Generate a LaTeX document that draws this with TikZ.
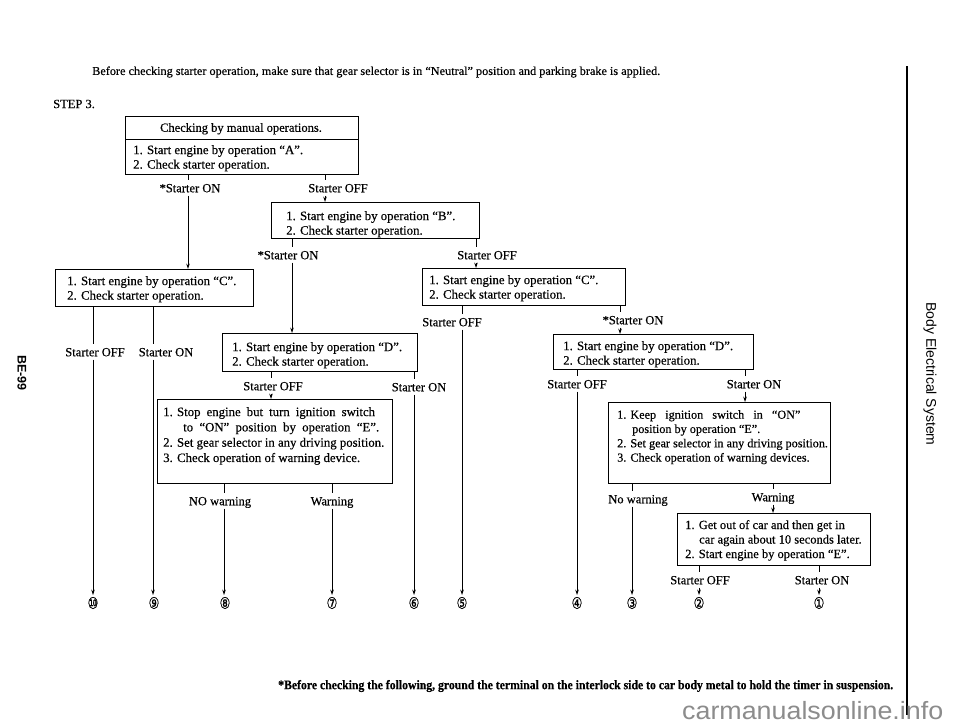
\documentclass[tikz,border=0pt]{standalone}
\usepackage{fontspec}
\usepackage{graphicx}
\setmainfont{Liberation Serif}[FakeBold=0.35]
\newfontfamily\sansf{Liberation Sans}
\newfontfamily\symf{DejaVu Sans}[FakeBold=0.6]
\usetikzlibrary{arrows.meta}
\begin{document}
\begin{tikzpicture}[x=1pt,y=-1pt,
  box/.style={draw, line width=0.9pt, inner sep=0pt, anchor=north west},
  btxt/.style={font=\fontsize{12.8}{14.5}\selectfont, align=left, anchor=north west, inner sep=0pt},
  lbl/.style={font=\fontsize{12.5}{14}\selectfont, inner sep=0pt, text height=8.5pt, text depth=0pt, minimum height=15pt},
  ln/.style={line width=0.8pt},
  arr/.style={line width=0.8pt, -{Stealth[length=5.5pt,width=3.6pt]}},
  num/.style={font=\symf\fontsize{16}{16}\selectfont, inner sep=0pt, outer sep=2pt},
  plain/.style={inner sep=0pt},
]
\fill[white] (0,0) rectangle (960,724);
\useasboundingbox (0,0) rectangle (960,724);

% header texts
\node[plain, anchor=west, font=\fontsize{12}{13}\selectfont] (hdr) at (92,72)
  {\resizebox{568pt}{\height}{Before checking starter operation, make sure that gear selector is in “Neutral” position and parking brake is applied.}};
\node[plain, anchor=west, font=\fontsize{12.5}{13}\selectfont] (step) at (53,104) {STEP 3.};

% boxes
\node[box, minimum width=233pt, minimum height=58pt] (b1) at (125,116) {};
\coordinate (div1) at (0,139);
\draw[line width=0.9pt] (b1.west |- div1) -- (b1.east |- div1);
\node[lbl] (b1h) at (241,127.5) {Checking by manual operations.};
\node[btxt] (b1t) at (133,145) {1. Start engine by operation “A”.\\2. Check starter operation.};

\node[box, minimum width=208pt, minimum height=36pt] (bB) at (271,202) {};
\node[btxt] (bBt) at (286,211) {1. Start engine by operation “B”.\\2. Check starter operation.};

\node[box, minimum width=198pt, minimum height=37pt] (c1) at (55,269) {};
\node[btxt] (c1t) at (67,276) {1. Start engine by operation “C”.\\2. Check starter operation.};

\node[box, minimum width=203pt, minimum height=37pt] (c2) at (422,268) {};
\node[btxt] (c2t) at (429,275) {1. Start engine by operation “C”.\\2. Check starter operation.};

\node[box, minimum width=195pt, minimum height=38pt] (d1) at (222,333) {};
\node[btxt] (d1t) at (232,342) {1. Start engine by operation “D”.\\2. Check starter operation.};

\node[box, minimum width=200pt, minimum height=35pt] (d2) at (553,334) {};
\node[btxt] (d2t) at (563,341) {1. Start engine by operation “D”.\\2. Check starter operation.};

\node[box, minimum width=235pt, minimum height=84pt] (e1) at (157,399) {};
\node[btxt, font=\fontsize{12.8}{15.3}\selectfont] (e1t) at (163,407)
  {1. \makebox[198pt][s]{Stop engine but turn ignition switch}\\
   \hspace*{20pt}\makebox[196pt][s]{to “ON” position by operation “E”.}\\
   2. Set gear selector in any driving position.\\
   3. Check operation of warning device.};

\node[box, minimum width=222pt, minimum height=81pt] (e2) at (608,402) {};
\node[btxt, font=\fontsize{12.2}{14.3}\selectfont] (e2t) at (617,410)
  {1. \makebox[170pt][s]{Keep ignition switch in “ON”}\\
   \hspace*{15pt}position by operation “E”.\\
   2. Set gear selector in any driving position.\\
   3. Check operation of warning devices.};

\node[box, minimum width=193pt, minimum height=52pt] (bF) at (677,513) {};
\node[btxt, font=\fontsize{12.5}{14.5}\selectfont] (bFt) at (685,520)
  {1. Get out of car and then get in\\
   \hspace*{14pt}car again about 10 seconds later.\\
   2. Start engine by operation “E”.};

% x positions of the connectors
\coordinate (x1) at (188,0);
\coordinate (x2) at (325,0);
\coordinate (x3) at (292,0);
\coordinate (x4) at (476,0);
\coordinate (x5) at (93,0);
\coordinate (x6) at (153,0);
\coordinate (x7) at (462,0);
\coordinate (x8) at (620,0);
\coordinate (x9) at (271,0);
\coordinate (x10) at (414,0);
\coordinate (x11) at (577,0);
\coordinate (x12) at (745,0);
\coordinate (x13) at (224,0);
\coordinate (x14) at (332,0);
\coordinate (x15) at (632,0);
\coordinate (x16) at (773,0);
\coordinate (x17) at (699,0);
\coordinate (x18) at (819,0);

% labels
\node[lbl] (l1) at (190,188) {*Starter ON};
\node[lbl] (l2) at (338,188) {Starter OFF};
\node[lbl] (l3) at (288,255) {*Starter ON};
\node[lbl] (l4) at (487,255) {Starter OFF};
\node[lbl] (l5) at (95,352) {Starter OFF};
\node[lbl] (l6) at (166,352) {Starter ON};
\node[lbl] (l7) at (452,322) {Starter OFF};
\node[lbl] (l8) at (633,320) {*Starter ON};
\node[lbl] (l9) at (273,386) {Starter OFF};
\node[lbl] (l10) at (419,387) {Starter ON};
\node[lbl] (l11) at (577,384) {Starter OFF};
\node[lbl] (l12) at (754,384) {Starter ON};
\node[lbl] (l13) at (220,501) {NO warning};
\node[lbl] (l14) at (332,501) {Warning};
\node[lbl] (l15) at (638,499) {No warning};
\node[lbl] (l16) at (773,497) {Warning};
\node[lbl] (l17) at (700,580) {Starter OFF};
\node[lbl] (l18) at (822,580) {Starter ON};

% circled numbers
\node[num] (n1) at (819,603) {\scalebox{0.75}[1]{①}};
\node[num] (n2) at (699,603) {\scalebox{0.75}[1]{②}};
\node[num] (n3) at (632,603) {\scalebox{0.75}[1]{③}};
\node[num] (n4) at (577,603) {\scalebox{0.75}[1]{④}};
\node[num] (n5) at (462,603) {\scalebox{0.75}[1]{⑤}};
\node[num] (n6) at (414,603) {\scalebox{0.75}[1]{⑥}};
\node[num] (n7) at (332,603) {\scalebox{0.75}[1]{⑦}};
\node[num] (n8) at (225,603) {\scalebox{0.75}[1]{⑧}};
\node[num] (n9) at (154,603) {\scalebox{0.75}[1]{⑨}};
\node[num] (n10) at (93,603) {\scalebox{0.75}[1]{⑩}};

% connectors: stubs from boxes to labels
\draw[ln] (b1.south -| x1) -- (l1.north -| x1);
\draw[ln] (b1.south -| x2) -- (l2.north -| x2);
\draw[ln] (bB.south -| x3) -- (l3.north -| x3);
\draw[ln] (bB.south -| x4) -- (l4.north -| x4);
\draw[ln] (c1.south -| x5) -- (l5.north -| x5);
\draw[ln] (c1.south -| x6) -- (l6.north -| x6);
\draw[ln] (c2.south -| x7) -- (l7.north -| x7);
\draw[ln] (c2.south -| x8) -- (l8.north -| x8);
\draw[ln] (d1.south -| x9) -- (l9.north -| x9);
\draw[ln] (d1.south -| x10) -- (l10.north -| x10);
\draw[ln] (d2.south -| x11) -- (l11.north -| x11);
\draw[ln] (d2.south -| x12) -- (l12.north -| x12);
\draw[ln] (e1.south -| x13) -- (l13.north -| x13);
\draw[ln] (e1.south -| x14) -- (l14.north -| x14);
\draw[ln] (e2.south -| x15) -- (l15.north -| x15);
\draw[ln] (e2.south -| x16) -- (l16.north -| x16);
\draw[ln] (bF.south -| x17) -- (l17.north -| x17);
\draw[ln] (bF.south -| x18) -- (l18.north -| x18);

% connectors: arrows from labels to targets
\draw[arr] (l1.south -| x1) -- (c1.north -| x1);
\draw[arr] (l2.south -| x2) -- (bB.north -| x2);
\draw[arr] (l3.south -| x3) -- (d1.north -| x3);
\draw[arr] (l4.south -| x4) -- (c2.north -| x4);
\draw[arr] (l5.south -| x5) -- (n10.north -| x5);
\draw[arr] (l6.south -| x6) -- (n9.north -| x6);
\draw[arr] (l7.south -| x7) -- (n5.north -| x7);
\draw[arr] (l8.south -| x8) -- (d2.north -| x8);
\draw[arr] (l9.south -| x9) -- (e1.north -| x9);
\draw[arr] (l10.south -| x10) -- (n6.north -| x10);
\draw[arr] (l11.south -| x11) -- (n4.north -| x11);
\draw[arr] (l12.south -| x12) -- (e2.north -| x12);
\draw[arr] (l13.south -| x13) -- (n8.north -| x13);
\draw[arr] (l14.south -| x14) -- (n7.north -| x14);
\draw[arr] (l15.south -| x15) -- (n3.north -| x15);
\draw[arr] (l16.south -| x16) -- (bF.north -| x16);
\draw[arr] (l17.south -| x17) -- (n2.north -| x17);
\draw[arr] (l18.south -| x18) -- (n1.north -| x18);

% footnote
\node[plain, anchor=west, font=\bfseries\fontsize{13}{14}\selectfont] (foot) at (278,686)
  {\resizebox{615pt}{\height}{*Before checking the following, ground the terminal on the interlock side to car body metal to hold the timer in suspension.}};

% page furniture
\draw[line width=1.5pt] (907,66) -- (907,715);
\node[plain, rotate=-90, font=\sansf\fontsize{14}{15}\selectfont] (bes) at (930,374) {Body Electrical System};
\node[plain, rotate=-90, font=\sansf\bfseries\fontsize{12.5}{13}\selectfont] (pg) at (22,373) {BE-99};
\node[plain, anchor=base west, font=\sansf\fontsize{25}{25}\selectfont, text=black!45] (wm) at (682,719)
  {\resizebox{261pt}{\height}{carmanualsonline.info}};
\end{tikzpicture}
\end{document}
